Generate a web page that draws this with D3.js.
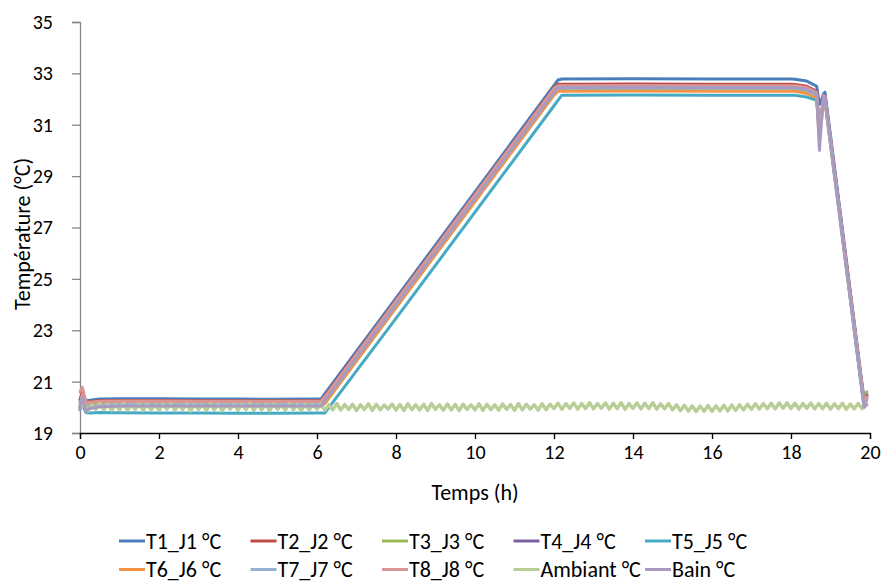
<!DOCTYPE html>
<html>
<head>
<meta charset="utf-8">
<script src="https://cdn.jsdelivr.net/npm/d3@7"></script>
<style>
  html, body { margin: 0; padding: 0; background: #fff; }
  svg { display: block; }
  text { font-family: Carlito, Calibri, Lato, "Open Sans", sans-serif; fill: #000; }
</style>
</head>
<body>
<svg id="chart" width="885" height="582"></svg>
<script>
// ---------- DATA ----------
const hours = [0, 0.06, 0.15, 0.25, 0.5, 1, 2, 3, 4, 5, 6, 6.1, 6.2, 8, 10, 12, 12.1, 12.2, 14, 16, 18, 18.1, 18.4, 18.65, 18.72, 18.76, 18.82, 18.86, 19.85, 19.92];

const T1 = [20.2, 20.55, 20.25, 20.28, 20.32, 20.33, 20.33, 20.32, 20.32, 20.31, 20.32, 20.32, 20.53, 24.25, 28.39, 32.53, 32.74, 32.78, 32.79, 32.78, 32.78, 32.77, 32.70, 32.50, 31.80, 31.90, 32.20, 32.27, 20.30, 20.45];
const T2 = [20.3, 20.6, 20.2, 20.22, 20.26, 20.27, 20.27, 20.26, 20.26, 20.26, 20.26, 20.26, 20.43, 24.15, 28.29, 32.43, 32.58, 32.58, 32.59, 32.58, 32.58, 32.57, 32.50, 32.30, 30.80, 31.30, 32.00, 32.15, 20.20, 20.50];
const T3 = [19.95, 20.3, 19.9, 19.98, 20.03, 20.05, 20.05, 20.05, 20.05, 20.05, 20.05, 20.05, 20.15, 23.88, 28.02, 32.16, 32.35, 32.35, 32.36, 32.35, 32.35, 32.35, 32.28, 32.10, 30.60, 31.20, 31.90, 32.00, 20.15, 20.60];
const T4 = [20.0, 20.4, 19.95, 20.05, 20.08, 20.1, 20.1, 20.1, 20.1, 20.1, 20.1, 20.1, 20.2, 23.93, 28.07, 32.21, 32.42, 32.45, 32.46, 32.45, 32.45, 32.45, 32.38, 32.20, 30.50, 31.20, 31.95, 32.05, 20.10, 20.45];
const T5 = [19.9, 20.1, 19.8, 19.78, 19.8, 19.79, 19.78, 19.78, 19.77, 19.77, 19.78, 19.78, 19.78, 23.46, 27.60, 31.74, 31.95, 32.15, 32.16, 32.15, 32.15, 32.15, 32.08, 31.95, 30.80, 31.30, 31.80, 31.90, 20.00, 20.30];
const T6 = [20.1, 20.5, 20.1, 20.1, 20.15, 20.16, 20.15, 20.15, 20.15, 20.15, 20.15, 20.15, 20.15, 23.88, 28.02, 32.16, 32.30, 32.30, 32.31, 32.30, 32.30, 32.30, 32.22, 32.05, 30.30, 31.00, 31.80, 31.95, 20.10, 20.40];
const T7 = [20.05, 20.45, 20.0, 20.05, 20.1, 20.12, 20.12, 20.12, 20.12, 20.12, 20.12, 20.12, 20.26, 23.99, 28.13, 32.27, 32.42, 32.42, 32.43, 32.42, 32.42, 32.42, 32.35, 32.15, 30.50, 31.20, 31.90, 32.00, 20.10, 20.35];
const T8 = [20.6, 20.78, 20.2, 20.2, 20.24, 20.25, 20.25, 20.24, 20.24, 20.24, 20.24, 20.24, 20.41, 24.13, 28.27, 32.41, 32.52, 32.52, 32.53, 32.52, 32.52, 32.52, 32.45, 32.25, 30.60, 31.30, 32.00, 32.10, 20.15, 20.40];
const Bain = [19.95, 20.4, 19.85, 19.95, 20.02, 20.05, 20.05, 20.05, 20.05, 20.05, 20.05, 20.05, 20.26, 23.98, 28.12, 32.26, 32.45, 32.45, 32.46, 32.45, 32.45, 32.44, 32.38, 32.20, 30.00, 30.90, 32.15, 32.10, 20.00, 20.10];

// Ambient temperature, one reading every 0.1 h from 0 to 19.9 h
const ambientStep = 0.1;
const Ambiant = [
  19.95, 20.12, 19.85, 20.10, 19.92, 20.14, 19.90, 20.12, 19.88, 20.10,
  19.90, 20.15, 19.88, 20.08, 19.92, 20.13, 19.87, 20.12, 19.90, 20.10,
  19.88, 20.12, 19.93, 20.14, 19.89, 20.09, 19.91, 20.13, 19.86, 20.11,
  19.92, 20.10, 19.88, 20.14, 19.90, 20.12, 19.87, 20.09, 19.93, 20.13,
  19.89, 20.11, 19.91, 20.15, 19.88, 20.10, 19.90, 20.12, 19.86, 20.13,
  19.92, 20.09, 19.89, 20.14, 19.91, 20.11, 19.87, 20.12, 19.90, 20.10,
  19.93, 20.13, 19.88, 20.10, 19.90, 20.15, 19.89, 20.11, 19.92, 20.12,
  19.87, 20.10, 19.91, 20.14, 19.88, 20.12, 19.90, 20.09, 19.93, 20.13,
  19.89, 20.11, 19.87, 20.14, 19.91, 20.10, 19.90, 20.12, 19.88, 20.15,
  19.92, 20.10, 19.89, 20.13, 19.90, 20.11, 19.87, 20.12, 19.92, 20.10,
  19.90, 20.14, 19.88, 20.12, 19.91, 20.10, 19.89, 20.13, 19.92, 20.11,
  19.88, 20.15, 19.90, 20.12, 19.93, 20.10, 19.89, 20.14, 19.91, 20.12,
  19.95, 20.16, 19.92, 20.14, 19.96, 20.17, 19.93, 20.15, 19.95, 20.18,
  19.94, 20.15, 19.96, 20.17, 19.93, 20.16, 19.95, 20.18, 19.92, 20.15,
  19.96, 20.17, 19.94, 20.16, 19.95, 20.18, 19.93, 20.14, 19.94, 20.15,
  19.90, 20.10, 19.87, 20.08, 19.85, 20.06, 19.84, 20.05, 19.85, 20.07,
  19.84, 20.06, 19.86, 20.08, 19.85, 20.09, 19.88, 20.10, 19.90, 20.12,
  19.92, 20.14, 19.93, 20.15, 19.95, 20.16, 19.94, 20.17, 19.96, 20.18,
  19.95, 20.16, 19.93, 20.15, 19.96, 20.17, 19.94, 20.15, 19.95, 20.16,
  19.93, 20.14, 19.95, 20.16, 19.92, 20.13, 19.94, 20.15, 19.95, 20.10
];

const seriesNames = ["T1_J1 °C", "T2_J2 °C", "T3_J3 °C", "T4_J4 °C", "T5_J5 °C", "T6_J6 °C", "T7_J7 °C", "T8_J8 °C", "Ambiant °C", "Bain °C"];
const seriesColors = ["#4A7EBB", "#BE4B48", "#98B954", "#7D60A0", "#46AAC5", "#F69240", "#95B3D7", "#D99694", "#B9CD96", "#A99BC0"];

const xTicks = [0, 2, 4, 6, 8, 10, 12, 14, 16, 18, 20];
const yTicks = [19, 21, 23, 25, 27, 29, 31, 33, 35];
const xTitle = "Temps (h)";
const yTitle = "Température (°C)";

// ---------- BUILD ----------
const FONT = "Carlito, Calibri, Lato, sans-serif";
const FS_TICK = 20;
const FS_TEXT = 22;
const ambientHours = Ambiant.map((_, i) => +(i * ambientStep).toFixed(2));
const seriesData = [T1, T2, T3, T4, T5, T6, T7, T8, null, Bain].map((vals, k) => {
  if (vals === null) return ambientHours.map((h, i) => [h, Ambiant[i]]);
  return hours.map((h, i) => [h, vals[i]]);
});

const svg = d3.select("#chart");
const plot = { left: 80, right: 870, top: 22, bottom: 433 };

const x = d3.scaleLinear().domain([0, 20]).range([plot.left, plot.right]);
const y = d3.scaleLinear().domain([19, 35]).range([plot.bottom, plot.top]);

// Y axis
const yAxis = svg.append("g")
  .attr("transform", `translate(${plot.left},0)`)
  .call(d3.axisLeft(y).tickValues(yTicks).tickSize(8).tickPadding(19).tickFormat(d3.format("d")));
yAxis.select(".domain").attr("stroke", "#868686").attr("stroke-width", 1.3);
yAxis.selectAll(".tick line").attr("stroke", "#868686").attr("stroke-width", 1.3);
yAxis.selectAll(".tick text").attr("font-size", FS_TICK).attr("font-family", FONT).attr("fill", "#000");

// Lines
const line = d3.line().x(d => x(d[0])).y(d => y(d[1]));
seriesData.forEach((data, k) => {
  svg.append("path")
    .datum(data)
    .attr("fill", "none")
    .attr("stroke", seriesColors[k])
    .attr("stroke-width", k === 8 ? 3.4 : 3)
    .attr("stroke-linejoin", "round")
    .attr("stroke-linecap", "round")
    .attr("d", line);
});

// X axis
const xAxis = svg.append("g")
  .attr("transform", `translate(0,${plot.bottom})`)
  .call(d3.axisBottom(x).tickValues(xTicks).tickSize(6).tickPadding(6).tickFormat(d3.format("d")));
xAxis.select(".domain").attr("stroke", "#000").attr("stroke-width", 1.3);
xAxis.selectAll(".tick line").attr("stroke", "#000").attr("stroke-width", 1.3);
xAxis.selectAll(".tick text").attr("font-size", FS_TICK).attr("font-family", FONT).attr("fill", "#000");

// Axis titles
svg.append("text")
  .attr("x", 475)
  .attr("y", 500)
  .attr("text-anchor", "middle")
  .attr("font-size", FS_TEXT)
  .text(xTitle);

svg.append("text")
  .attr("transform", `translate(30,234) rotate(-90)`)
  .attr("text-anchor", "middle")
  .attr("font-size", FS_TEXT)
  .text(yTitle);

// Legend
const legend = svg.append("g");
seriesNames.forEach((name, k) => {
  const row = Math.floor(k / 5), col = k % 5;
  const gx = 119 + col * 131.5;
  const gy = 541 + row * 28.5;
  const g = legend.append("g").attr("transform", `translate(${gx},${gy})`);
  g.append("line").attr("x1", 0).attr("x2", 26).attr("y1", 0).attr("y2", 0)
    .attr("stroke", seriesColors[k]).attr("stroke-width", 3);
  g.append("text").attr("x", 27).attr("y", 0).attr("dy", "0.35em")
    .attr("font-size", FS_TEXT).text(name);
});
</script>
</body>
</html>
